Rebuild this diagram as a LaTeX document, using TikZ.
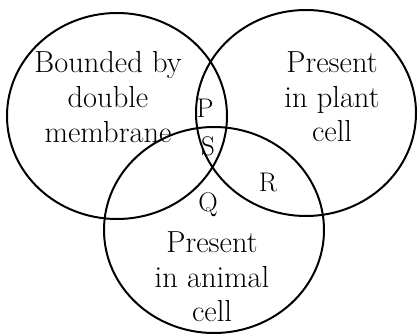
\documentclass[tikz,border=0pt]{standalone}
\usepackage{tikz}

\begin{document}
\begin{tikzpicture}[
		kreis/.style={line width=1.7pt},
		beschriftung/.style={align=center, font=\fontsize{26}{29.5}\selectfont},
		buchstabe/.style={font=\fontsize{23}{26}\selectfont}
	]
			%\draw [lightgray](0,0) grid (13,10);
			\useasboundingbox (0,0) rectangle (12.51,10.02);
			
			% Zeichnet den linken Kreis (doppelte Membran)
			\draw[kreis] (3.51,6.54) ellipse [x radius=3.3, y radius=3.09];
			
			% Zeichnet den rechten Kreis (Pflanzenzelle)
			\draw[kreis] (9.18,6.63) ellipse [x radius=3.3, y radius=3.09];
			
			% Zeichnet den unteren Kreis (Tierzelle)
			\draw[kreis] (6.42,3.12) ellipse [x radius=3.3, y radius=3.09];
			
			% Beschriftung der drei Kreise
			\node[beschriftung] (membran) at (3.24,7.11) {Bounded by\\double\\membrane};
			\node[beschriftung] (pflanze) at (9.96,7.11) {Present\\in plant\\cell};
			\node[beschriftung] (tier) at (6.36,1.71) {Present\\in animal\\cell};
			
			% Buchstaben in den Schnittflaechen
			\node[buchstabe] (P) at (6.15,6.78) {P};
			\node[buchstabe] (S) at (6.24,5.64) {S};
			\node[buchstabe] (R) at (8.04,4.53) {R};
			\node[buchstabe] (Q) at (6.24,3.87) {Q};
		\end{tikzpicture}
\end{document}
